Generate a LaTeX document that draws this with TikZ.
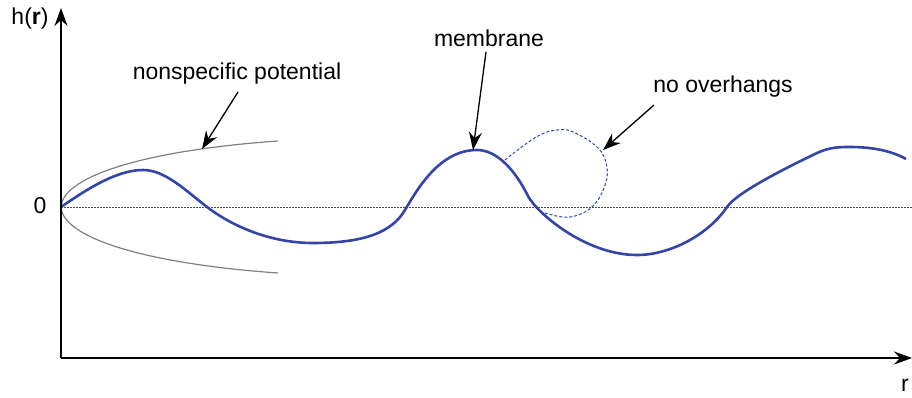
\documentclass[tikz,border=0pt]{standalone}
\usepackage{fontspec}
\setmainfont{Liberation Sans}
\usetikzlibrary{arrows.meta}
\definecolor{memblue}{HTML}{3344AA}
\tikzset{
  lbl/.style={font=\fontsize{23}{27}\selectfont, inner sep=0pt},
  axis/.style={line width=1.5pt, -{Stealth[length=18pt,width=13pt,inset=6pt]}},
  pointer/.style={line width=1.3pt, -{Stealth[length=18pt,width=13pt,inset=6pt]}},
  membrane/.style={memblue, line width=2.6pt},
  overhang/.style={memblue, line width=1pt, dash pattern=on 3pt off 2pt},
  potential/.style={gray, line width=1.2pt},
  zeroline/.style={line width=1pt, dash pattern=on 1.5pt off 1.5pt, black!70}
}
\begin{document}
\begin{tikzpicture}[x=1pt,y=-1pt]
\useasboundingbox (0,0) rectangle (912,398);
% coordinates
\coordinate (O) at (61,358);
\coordinate (ytop) at (61,8);
\coordinate (xend) at (912,358);
\coordinate (z0) at (61,207);
\coordinate (z1) at (912,207);
% zero line
\draw[zeroline] (z0) -- (z1);
% potential
\draw[potential] (z0) .. controls (63,175) and (150,150) .. (278,141);
\draw[potential] (z0) .. controls (63,239) and (150,264) .. (278,273);
% overhang
\draw[overhang] plot[smooth, tension=0.7] coordinates {(505,160) (523,146) (540,135) (557,130) (573,132) (598,148) (607,168) (604,188) (593,206) (578,215) (563,217) (545,213)};
% membrane
\draw[membrane] (z0)
  .. controls (90,187) and (118,170) .. (143,170)
  .. controls (165,170) and (185,190) .. (207,207)
  .. controls (232,226) and (270,243) .. (313,243)
  .. controls (365,243) and (392,232) .. (405,210)
  .. controls (418,188) and (440,150) .. (477,150)
  .. controls (497,150) and (515,170) .. (528,196)
  .. controls (536,212) and (585,255) .. (637,255)
  .. controls (670,255) and (708,235) .. (727,207)
  .. controls (737,192) and (790,166) .. (817,153)
  .. controls (830,147) and (840,147) .. (850,147)
  .. controls (870,147) and (890,150) .. (906,159);
% axes
\draw[axis] (O) -- (ytop);
\draw[axis] (O) -- (xend);
% labels
\node[lbl] (hr) at (30,19) {h(\textbf{r})};
\node[lbl] (rr) at (905,385) {r};
\node[lbl] (zero) at (40,206) {0};
\node[lbl] (nsp) at (237,74) {nonspecific potential};
\node[lbl] (mem) at (489,38) {membrane};
\node[lbl] (noo) at (723,87) {no overhangs};
% pointer ends
\coordinate (snsp) at (238,92);
\coordinate (tnsp) at (202,149);
\coordinate (smem) at (486,52);
\coordinate (tmem) at (473,150);
\coordinate (snoo) at (654,105);
\coordinate (tnoo) at (603,150);
\draw[pointer] (snsp) -- (tnsp);
\draw[pointer] (smem) -- (tmem);
\draw[pointer] (snoo) -- (tnoo);
\end{tikzpicture}
\end{document}
